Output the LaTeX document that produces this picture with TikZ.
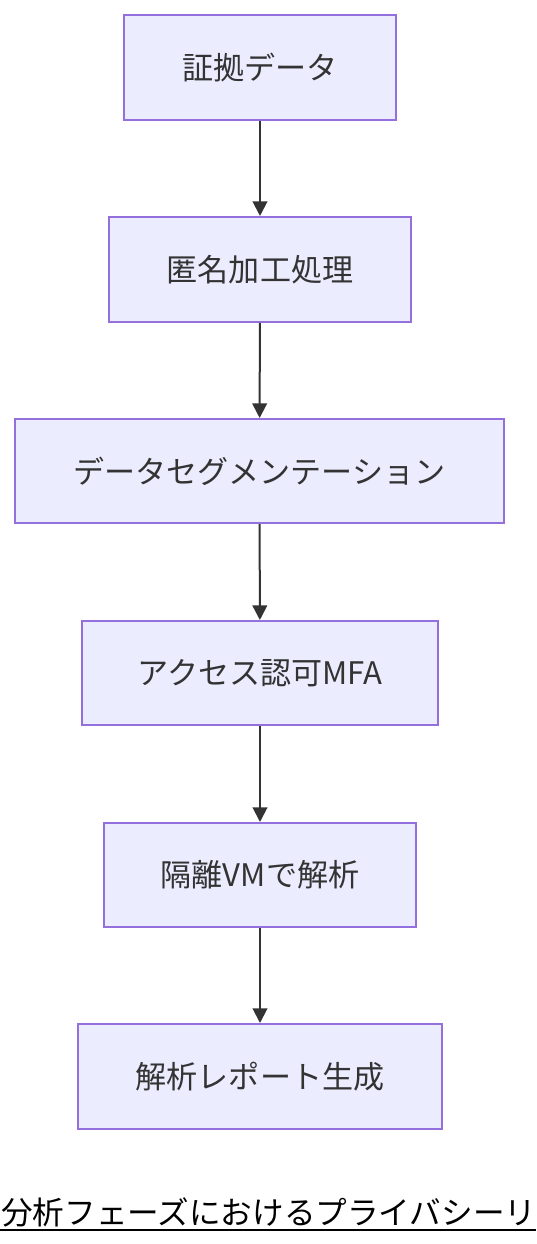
\documentclass[tikz,border=0pt]{standalone}
\usepackage{fontspec}
\setmainfont{Noto Sans CJK JP}
\usetikzlibrary{arrows.meta}
\definecolor{nodefill}{HTML}{ECECFF}
\definecolor{nodeline}{HTML}{9370DB}
\definecolor{edgecol}{HTML}{333333}
\begin{document}
\begin{tikzpicture}[x=0.75pt,y=-0.75pt,
  box/.style={draw=nodeline,fill=nodefill,line width=1.5pt,inner sep=0pt,
    text=edgecol,font=\fontsize{23.3}{28}\selectfont},
  conn/.style={draw=edgecol,line width=1.5pt,-{Triangle[length=11pt,width=11pt]}}]
\useasboundingbox (0,0) rectangle (536,1244);
\clip (0,0) rectangle (536,1244);
\node[box,minimum width=272*0.75pt,minimum height=105*0.75pt] (n1) at (260,67.5) {証拠データ};
\node[box,minimum width=302*0.75pt,minimum height=105*0.75pt] (n2) at (260,269.5) {匿名加工処理};
\node[box,minimum width=489*0.75pt,minimum height=104*0.75pt] (n3) at (259.5,471) {データセグメンテーション};
\node[box,minimum width=356*0.75pt,minimum height=104*0.75pt] (n4) at (260,673) {アクセス認可MFA};
\node[box,minimum width=312*0.75pt,minimum height=104*0.75pt] (n5) at (260,875) {隔離VMで解析};
\node[box,minimum width=364*0.75pt,minimum height=105*0.75pt] (n6) at (260,1076.5) {解析レポート生成};
\draw[conn] (n1) -- (n2);
\draw[conn] (n2) -- (n3);
\draw[conn] (n3) -- (n4);
\draw[conn] (n4) -- (n5);
\draw[conn] (n5) -- (n6);
\node[anchor=base west,inner sep=0pt,font=\fontsize{23.7}{28}\selectfont] (title) at (1,1224) {分析フェーズにおけるプライバシーリ};
\coordinate (ul1) at (0,1230);
\coordinate (ul2) at (536,1230);
\draw[line width=1.6pt,black] (ul1) -- (ul2);
\end{tikzpicture}
\end{document}
